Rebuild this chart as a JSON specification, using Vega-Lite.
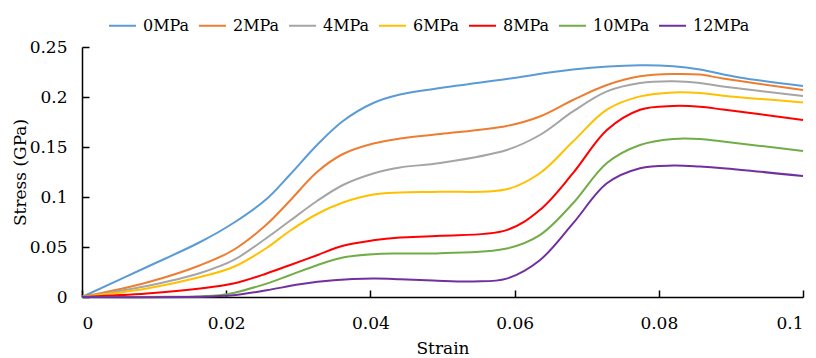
{
  "$schema": "https://vega.github.io/schema/vega-lite/v6.json",
  "width": 721,
  "height": 250,
  "autosize": {"type": "none"},
  "padding": {"left": 82, "top": 47, "right": 13, "bottom": 61},
  "background": "white",
  "config": {
    "font": "DejaVu Serif",
    "view": {"stroke": null}
  },
  "data": {"values": [
    {"s":"0MPa","x":0,"y":0},{"s":"0MPa","x":0.009,"y":0.030},{"s":"0MPa","x":0.0164,"y":0.055},{"s":"0MPa","x":0.021,"y":0.074},{"s":"0MPa","x":0.0256,"y":0.098},{"s":"0MPa","x":0.0288,"y":0.122},{"s":"0MPa","x":0.0326,"y":0.152},{"s":"0MPa","x":0.0362,"y":0.176},{"s":"0MPa","x":0.0404,"y":0.194},{"s":"0MPa","x":0.0441,"y":0.2025},{"s":"0MPa","x":0.0497,"y":0.209},{"s":"0MPa","x":0.0589,"y":0.218},{"s":"0MPa","x":0.0681,"y":0.2274},{"s":"0MPa","x":0.0774,"y":0.2317},{"s":"0MPa","x":0.082,"y":0.2307},{"s":"0MPa","x":0.0857,"y":0.2275},{"s":"0MPa","x":0.0912,"y":0.2195},{"s":"0MPa","x":0.1,"y":0.211},
    {"s":"2MPa","x":0,"y":0},{"s":"2MPa","x":0.009,"y":0.0145},{"s":"2MPa","x":0.0164,"y":0.0318},{"s":"2MPa","x":0.021,"y":0.047},{"s":"2MPa","x":0.0256,"y":0.0725},{"s":"2MPa","x":0.0288,"y":0.096},{"s":"2MPa","x":0.0326,"y":0.125},{"s":"2MPa","x":0.0362,"y":0.143},{"s":"2MPa","x":0.0404,"y":0.1535},{"s":"2MPa","x":0.0441,"y":0.1585},{"s":"2MPa","x":0.0497,"y":0.163},{"s":"2MPa","x":0.0589,"y":0.171},{"s":"2MPa","x":0.0635,"y":0.1805},{"s":"2MPa","x":0.0681,"y":0.197},{"s":"2MPa","x":0.0728,"y":0.212},{"s":"2MPa","x":0.0774,"y":0.2207},{"s":"2MPa","x":0.082,"y":0.223},{"s":"2MPa","x":0.0857,"y":0.2224},{"s":"2MPa","x":0.0889,"y":0.2185},{"s":"2MPa","x":0.1,"y":0.207},
    {"s":"4MPa","x":0,"y":0},{"s":"4MPa","x":0.009,"y":0.011},{"s":"4MPa","x":0.0164,"y":0.024},{"s":"4MPa","x":0.021,"y":0.0368},{"s":"4MPa","x":0.0256,"y":0.059},{"s":"4MPa","x":0.0288,"y":0.076},{"s":"4MPa","x":0.0326,"y":0.096},{"s":"4MPa","x":0.0362,"y":0.112},{"s":"4MPa","x":0.0404,"y":0.1235},{"s":"4MPa","x":0.0441,"y":0.1295},{"s":"4MPa","x":0.0497,"y":0.134},{"s":"4MPa","x":0.0589,"y":0.147},{"s":"4MPa","x":0.0635,"y":0.162},{"s":"4MPa","x":0.0681,"y":0.1856},{"s":"4MPa","x":0.0728,"y":0.2056},{"s":"4MPa","x":0.0774,"y":0.214},{"s":"4MPa","x":0.082,"y":0.2157},{"s":"4MPa","x":0.0857,"y":0.214},{"s":"4MPa","x":0.0889,"y":0.2106},{"s":"4MPa","x":0.1,"y":0.201},
    {"s":"6MPa","x":0,"y":0},{"s":"6MPa","x":0.009,"y":0.0085},{"s":"6MPa","x":0.0164,"y":0.020},{"s":"6MPa","x":0.021,"y":0.030},{"s":"6MPa","x":0.0256,"y":0.049},{"s":"6MPa","x":0.0288,"y":0.066},{"s":"6MPa","x":0.0326,"y":0.083},{"s":"6MPa","x":0.0362,"y":0.0945},{"s":"6MPa","x":0.0404,"y":0.1025},{"s":"6MPa","x":0.0441,"y":0.1045},{"s":"6MPa","x":0.0497,"y":0.1053},{"s":"6MPa","x":0.0589,"y":0.1077},{"s":"6MPa","x":0.0635,"y":0.1238},{"s":"6MPa","x":0.0681,"y":0.1555},{"s":"6MPa","x":0.0728,"y":0.1873},{"s":"6MPa","x":0.0774,"y":0.2006},{"s":"6MPa","x":0.082,"y":0.2046},{"s":"6MPa","x":0.0857,"y":0.204},{"s":"6MPa","x":0.0889,"y":0.2013},{"s":"6MPa","x":0.1,"y":0.1946},
    {"s":"8MPa","x":0,"y":0},{"s":"8MPa","x":0.009,"y":0.0035},{"s":"8MPa","x":0.0164,"y":0.0084},{"s":"8MPa","x":0.021,"y":0.0134},{"s":"8MPa","x":0.0256,"y":0.0235},{"s":"8MPa","x":0.0288,"y":0.0318},{"s":"8MPa","x":0.0326,"y":0.0418},{"s":"8MPa","x":0.0362,"y":0.0512},{"s":"8MPa","x":0.0404,"y":0.0567},{"s":"8MPa","x":0.0441,"y":0.0595},{"s":"8MPa","x":0.0497,"y":0.0612},{"s":"8MPa","x":0.0589,"y":0.0669},{"s":"8MPa","x":0.0635,"y":0.087},{"s":"8MPa","x":0.0681,"y":0.1238},{"s":"8MPa","x":0.0728,"y":0.167},{"s":"8MPa","x":0.0774,"y":0.1873},{"s":"8MPa","x":0.082,"y":0.191},{"s":"8MPa","x":0.0857,"y":0.1903},{"s":"8MPa","x":0.0889,"y":0.1875},{"s":"8MPa","x":0.1,"y":0.177},
    {"s":"10MPa","x":0,"y":0},{"s":"10MPa","x":0.012,"y":0.0002},{"s":"10MPa","x":0.0164,"y":0.0006},{"s":"10MPa","x":0.0191,"y":0.0017},{"s":"10MPa","x":0.021,"y":0.004},{"s":"10MPa","x":0.0256,"y":0.0134},{"s":"10MPa","x":0.0288,"y":0.0218},{"s":"10MPa","x":0.0326,"y":0.0318},{"s":"10MPa","x":0.0362,"y":0.0395},{"s":"10MPa","x":0.0404,"y":0.0428},{"s":"10MPa","x":0.0441,"y":0.0435},{"s":"10MPa","x":0.0497,"y":0.0438},{"s":"10MPa","x":0.0589,"y":0.0485},{"s":"10MPa","x":0.0635,"y":0.0619},{"s":"10MPa","x":0.0681,"y":0.0937},{"s":"10MPa","x":0.0728,"y":0.134},{"s":"10MPa","x":0.0774,"y":0.152},{"s":"10MPa","x":0.082,"y":0.158},{"s":"10MPa","x":0.0857,"y":0.158},{"s":"10MPa","x":0.0889,"y":0.1555},{"s":"10MPa","x":0.1,"y":0.146},
    {"s":"12MPa","x":0,"y":0},{"s":"12MPa","x":0.016,"y":0.0002},{"s":"12MPa","x":0.021,"y":0.0017},{"s":"12MPa","x":0.0256,"y":0.0067},{"s":"12MPa","x":0.0302,"y":0.0127},{"s":"12MPa","x":0.0349,"y":0.0167},{"s":"12MPa","x":0.0404,"y":0.0184},{"s":"12MPa","x":0.0441,"y":0.0178},{"s":"12MPa","x":0.0487,"y":0.0165},{"s":"12MPa","x":0.0543,"y":0.0155},{"s":"12MPa","x":0.0589,"y":0.0184},{"s":"12MPa","x":0.0635,"y":0.0368},{"s":"12MPa","x":0.0681,"y":0.0736},{"s":"12MPa","x":0.0728,"y":0.1137},{"s":"12MPa","x":0.0774,"y":0.1288},{"s":"12MPa","x":0.082,"y":0.1314},{"s":"12MPa","x":0.0857,"y":0.1304},{"s":"12MPa","x":0.0889,"y":0.1288},{"s":"12MPa","x":0.1,"y":0.121}
  ]},
  "encoding": {
    "x": {"field": "x", "type": "quantitative", "scale": {"domain": [0, 0.1], "nice": false, "zero": false}},
    "y": {"field": "y", "type": "quantitative", "scale": {"domain": [0, 0.25], "nice": false}},
    "color": {
      "field": "s", "type": "nominal",
      "sort": ["0MPa","2MPa","4MPa","6MPa","8MPa","10MPa","12MPa"],
      "scale": {
        "domain": ["0MPa","2MPa","4MPa","6MPa","8MPa","10MPa","12MPa"],
        "range": ["#5B9BD5","#ED7D31","#A5A5A5","#FFC000","#FF0000","#70AD47","#7030A0"]
      },
      "legend": {
        "title": null, "orient": "none", "direction": "horizontal",
        "legendX": 26, "legendY": -36,
        "symbolType": "stroke", "symbolStrokeWidth": 2, "symbolSize": 729,
        "labelFontSize": 16, "labelColor": "#000", "columnPadding": 5, "labelOffset": 6
      }
    }
  },
  "layer": [
    {
      "mark": {"type": "line", "interpolate": "catmull-rom", "strokeWidth": 2},
      "encoding": {
        "x": {"field": "x", "type": "quantitative", "axis": {
          "title": "Strain", "values": [0, 0.02, 0.04, 0.06, 0.08, 0.1], "format": "~g", "grid": false, "orient": "bottom",
          "domainColor": "#000", "domainWidth": 1.5, "ticks": false,
          "labelFontSize": 17, "labelColor": "#000", "labelPadding": 18,
          "titleFontSize": 17, "titleFontWeight": "normal", "titleColor": "#000", "titlePadding": 9}},
        "y": {"field": "y", "type": "quantitative", "axis": {
          "title": "Stress (GPa)", "values": [0, 0.05, 0.1, 0.15, 0.2, 0.25], "format": "~g", "grid": false, "orient": "left",
          "domainColor": "#000", "domainWidth": 1.5, "ticks": false,
          "labelFontSize": 17, "labelColor": "#000", "labelPadding": 15,
          "titleFontSize": 17, "titleFontWeight": "normal", "titleColor": "#000", "titlePadding": 0}}
      }
    },
    {
      "mark": {"type": "line", "interpolate": "catmull-rom", "strokeWidth": 2, "strokeOpacity": 0},
      "encoding": {
        "x": {"field": "x", "type": "quantitative", "axis": {
          "title": null, "values": [0, 0.02, 0.04, 0.06, 0.08, 0.1], "grid": false, "orient": "bottom", "offset": -7,
          "domain": false, "labels": false, "tickColor": "#000", "tickWidth": 1.5, "tickSize": 7}},
        "y": {"field": "y", "type": "quantitative", "axis": {
          "title": null, "values": [0, 0.05, 0.1, 0.15, 0.2, 0.25], "grid": false, "orient": "left", "offset": -7,
          "domain": false, "labels": false, "tickColor": "#000", "tickWidth": 1.5, "tickSize": 7}}
      }
    }
  ],
  "resolve": {"axis": {"x": "independent", "y": "independent"}}
}
